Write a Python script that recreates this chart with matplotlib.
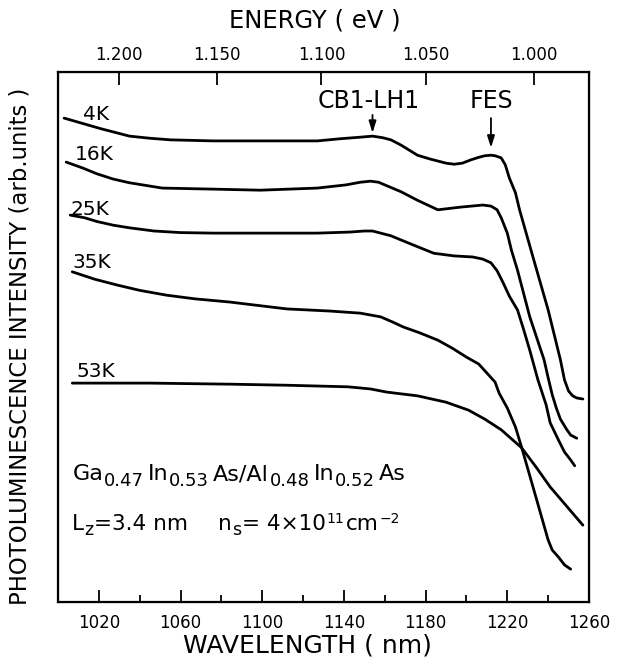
import numpy as np
import matplotlib
matplotlib.use('Agg')
from matplotlib import pyplot as plt
from matplotlib.ticker import MultipleLocator

# wavelength (nm) / PL intensity (arb. units) for each temperature
wl_4k = [1003, 1012, 1021, 1028, 1035, 1045, 1055, 1076, 1099, 1127, 1138, 1148, 1154,
         1159, 1163, 1168, 1176, 1182, 1190, 1194, 1198, 1202, 1206, 1209, 1212, 1214,
         1217, 1219, 1221, 1224, 1226, 1233, 1240, 1246, 1248, 1250, 1252, 1254, 1257]
pl_4k = [91.3, 90.3, 89.3, 88.6, 87.9, 87.5, 87.2, 87.0, 87.0, 87.0, 87.4, 87.7, 87.9,
         87.6, 87.2, 86.2, 84.3, 83.6, 82.8, 82.6, 82.8, 83.4, 83.9, 84.2, 84.3, 84.2,
         83.8, 82.5, 80.0, 77.2, 74.0, 64.5, 55.1, 45.7, 41.9, 39.8, 38.9, 38.5, 38.3]

wl_16k = [1004, 1012, 1019, 1027, 1035, 1043, 1051, 1076, 1099, 1127, 1141, 1148, 1153,
          1157, 1160, 1168, 1176, 1186, 1197, 1208, 1212, 1215, 1217, 1220, 1222, 1225,
          1231, 1238, 1240, 1242, 1244, 1246, 1249, 1251, 1254]
pl_16k = [83.0, 81.9, 80.8, 79.8, 79.1, 78.6, 78.1, 77.9, 77.7, 78.1, 78.7, 79.2, 79.4,
          79.2, 78.7, 77.4, 75.8, 74.0, 74.5, 74.9, 74.7, 74.0, 72.5, 69.6, 66.4, 62.6,
          53.8, 45.7, 42.3, 39.1, 36.6, 34.5, 32.6, 31.5, 30.9]

wl_25k = [1006, 1013, 1019, 1027, 1035, 1047, 1060, 1076, 1099, 1127, 1143, 1150, 1154,
          1158, 1163, 1168, 1175, 1184, 1194, 1203, 1208, 1212, 1215, 1218, 1221, 1225,
          1228, 1231, 1235, 1239, 1241, 1245, 1248, 1251, 1253]
pl_25k = [73.0, 72.5, 71.8, 71.1, 70.6, 70.0, 69.7, 69.6, 69.6, 69.6, 69.8, 70.0, 70.0,
          69.6, 69.1, 68.3, 67.2, 65.8, 65.3, 65.1, 64.7, 64.0, 62.5, 60.2, 57.7, 55.1,
          51.4, 47.5, 41.9, 37.2, 33.8, 30.6, 28.3, 26.8, 25.7]

wl_35k = [1007, 1018, 1029, 1040, 1053, 1067, 1084, 1112, 1133, 1148, 1158, 1164, 1169,
          1177, 1186, 1193, 1200, 1206, 1210, 1214, 1216, 1220, 1224, 1227, 1234, 1240,
          1242, 1245, 1248, 1251]
pl_35k = [62.3, 60.9, 59.8, 58.8, 57.9, 57.2, 56.6, 55.3, 54.9, 54.5, 53.8, 52.8, 51.9,
          50.8, 49.4, 47.9, 46.2, 44.9, 43.2, 41.5, 39.4, 36.6, 33.0, 29.2, 19.8, 11.7,
          9.8, 8.5, 7.0, 6.2]

wl_53k = [1007, 1045, 1084, 1112, 1142, 1153, 1161, 1176, 1190, 1201, 1209, 1217, 1227,
          1234, 1241, 1249, 1257]
pl_53k = [41.3, 41.3, 41.1, 40.9, 40.6, 40.2, 39.6, 38.9, 37.7, 36.2, 34.5, 32.5, 29.1,
          25.5, 21.7, 18.1, 14.5]

temps = ['4K', '16K', '25K', '35K', '53K']
label_pos = [(1012, 90.9), (1008, 83.4), (1006, 73.0), (1007, 63.0), (1009, 42.5)]

# energy scale on top, tick positions in nm
energy_labels = ['1.200', '1.150', '1.100', '1.050', '1.000']
energy_tick_nm = [1030, 1078, 1129, 1180, 1233]

# peak markers: label, label x, arrow x, arrow top, arrow tip
peaks = [('CB1-LH1', 1152, 1154, 91.9, 88.5), ('FES', 1212, 1212, 91.3, 85.7)]

MAIN, SUB, SUP = 15.5, 12.5, 10


def chain_text(ax, x, y, pieces):
    # writes pieces one after another; each piece is (text, size, shift in pt, gap in pt)
    prev = None
    for s, size, dy, gap in pieces:
        if prev is None:
            prev = ax.text(x, y, s, fontsize=size, va='baseline', ha='left')
        else:
            prev = ax.annotate(s, xy=(1, y), xycoords=(prev, 'data'),
                               xytext=(gap, dy), textcoords='offset points',
                               fontsize=size, va='baseline', ha='left')
    return prev


plt.rcParams['font.family'] = ['DejaVu Sans']

fig = plt.figure(figsize=(6.18, 6.68), dpi=100)
ax = fig.add_axes([58 / 618, 1 - 602 / 668, 531 / 618, 530 / 668])

curves = [(wl_4k, pl_4k), (wl_16k, pl_16k), (wl_25k, pl_25k), (wl_35k, pl_35k),
          (wl_53k, pl_53k)]
for (wl, pl), t, (tx, ty) in zip(curves, temps, label_pos):
    ax.plot(wl, pl, color='black', lw=2.0, solid_joinstyle='round', solid_capstyle='round')
    ax.text(tx, ty, t, fontsize=14.5, va='baseline', ha='left')

ax.set_xlim(1000, 1260)
ax.set_ylim(0, 100)
ax.set_yticks([])
ax.set_xticks(np.arange(1020, 1261, 40))
ax.xaxis.set_minor_locator(MultipleLocator(20))
ax.tick_params(axis='x', which='major', direction='in', length=9, width=1.3,
               labelsize=12, pad=9)
ax.tick_params(axis='x', which='minor', direction='in', length=5, width=1.3)
for s in ax.spines.values():
    s.set_linewidth(1.6)

ax_top = ax.twiny()
ax_top.set_xlim(ax.get_xlim())
ax_top.set_xticks(energy_tick_nm, energy_labels)
ax_top.tick_params(axis='x', direction='in', length=9, width=1.3, labelsize=12, pad=6)

for name, tx, ax_x, y0, y1 in peaks:
    ax.text(tx, 93.2, name, fontsize=17, ha='center', va='baseline')
    ax.annotate('', xy=(ax_x, y1), xytext=(ax_x, y0),
                arrowprops=dict(arrowstyle='-|>,head_length=0.7,head_width=0.22',
                                color='black', lw=1.3, shrinkA=0, shrinkB=0))

chain_text(ax, 1007, 23.0, [('Ga', 16, 0, 0), ('0.47', 13, -4, 0.5), ('In', 16, 0, 3),
                            ('0.53', 13, -4, 0.5), ('As/Al', 16, 0, 2.5),
                            ('0.48', 13, -4, 0.5), ('In', 16, 0, 3),
                            ('0.52', 13, -4, 0.5), ('As', 16, 0, 3)])
chain_text(ax, 1007, 13.6, [('L', MAIN, 0, 0), ('z', SUB, -4, 0), ('=3.4 nm', MAIN, 0, 0.5)])
chain_text(ax, 1078.5, 13.6, [('n', MAIN, 0, 0), ('s', SUB, -4, 0),
                              ('= 4\u00d710', MAIN, 0, 0.5), ('11', SUP, 5, 0.5),
                              ('cm', MAIN, 0, 1), ('\u22122', SUP, 5, 0.5)])

fig.text(0.498, 0.033, 'WAVELENGTH ( nm)', fontsize=18, ha='center', va='center')
fig.text(0.51, 0.970, 'ENERGY ( eV )', fontsize=17.5, ha='center', va='center')
fig.text(0.032, 0.481, 'PHOTOLUMINESCENCE INTENSITY (arb.units )', fontsize=16.4,
         rotation=90, ha='center', va='center')

fig.savefig('out.png', dpi=100)
